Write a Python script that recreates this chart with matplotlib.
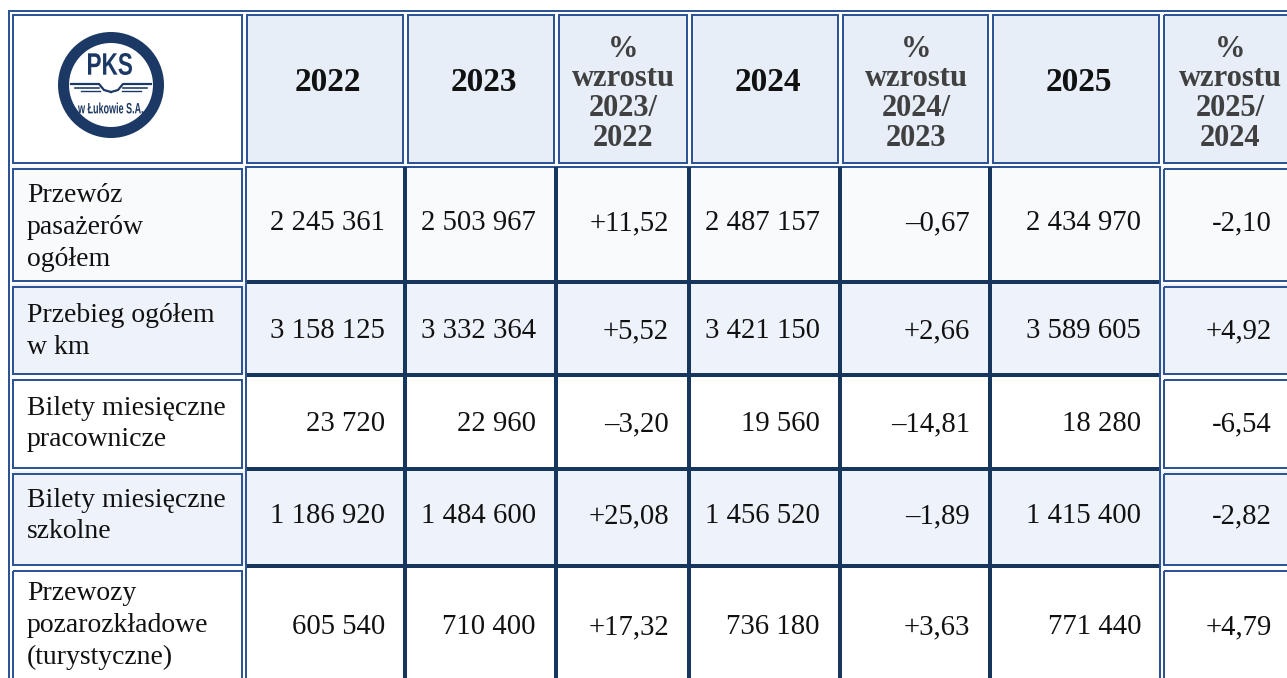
import matplotlib
matplotlib.use("Agg")
import matplotlib.pyplot as plt
from matplotlib.patches import Rectangle, Circle, PathPatch
from matplotlib.textpath import TextPath
from matplotlib.font_manager import FontProperties
from matplotlib.transforms import Affine2D

years = ["2022", "2023", "2024", "2025"]
growth_heads = [["%", "wzrostu", "2023/", "2022"],
                ["%", "wzrostu", "2024/", "2023"],
                ["%", "wzrostu", "2025/", "2024"]]
row_labels = [["Przewóz", "pasażerów", "ogółem"],
              ["Przebieg ogółem", "w km"],
              ["Bilety miesięczne", "pracownicze"],
              ["Bilety miesięczne", "szkolne"],
              ["Przewozy", "pozarozkładowe", "(turystyczne)"]]
values_2022 = [2245361, 3158125, 23720, 1186920, 605540]
values_2023 = [2503967, 3332364, 22960, 1484600, 710400]
values_2024 = [2487157, 3421150, 19560, 1456520, 736180]
values_2025 = [2434970, 3589605, 18280, 1415400, 771440]
growth_23_22 = [11.52, 5.52, -3.20, 25.08, 17.32]
growth_24_23 = [-0.67, 2.66, -14.81, -1.89, 3.63]
growth_25_24 = [-2.10, 4.92, -6.54, -2.82, 4.79]

BLUE = "#2f5496"
NAVY = "#17365d"
LOGO = "#1c3864"
HEAD_BG = "#e7eef8"
ROW_BG = ["#f9fafc", "#eef3fb", "#ffffff", "#eef3fb", "#ffffff"]
SERIF = "Liberation Serif"

W, H = 1287, 678
col_edges = [10, 244, 405, 556, 689, 840, 990, 1161, 1297]
row_edges = [10, 164, 282, 375, 469, 566, 700]
num_base = [230, 338, 431, 523, 634]
label_base = [202.5, 322, 415, 507, 600]
label_step = [31.5, 31.5, 31.5, 31.5, 32]
PT = 0.72  # points per pixel at dpi 100


def fmt_int(v):
    return f"{v:,}".replace(",", " ")


def fmt_pct(v, minus):
    s = f"{abs(v):.2f}".replace(".", ",")
    return ("+" if v > 0 else minus) + s


def fit_text(ax, s, box, color, weight="bold"):
    # draw text path squeezed into a pixel box (x0, x1, y_top, y_base)
    tp = TextPath((0, 0), s, size=1,
                  prop=FontProperties(family="Liberation Sans", weight=weight))
    ext = tp.get_extents()
    x0, x1, yt, yb = box
    sx = (x1 - x0) / ext.width
    sy = (yb - yt) / ext.height
    tr = Affine2D().translate(-ext.x0, -ext.y0).scale(sx, -sy).translate(x0, yb)
    ax.add_patch(PathPatch(tr.transform_path(tp), fc=color, ec="none"))


fig = plt.figure(figsize=(W / 100, H / 100), dpi=100)
ax = fig.add_axes([0, 0, 1, 1])
ax.set_xlim(0, W)
ax.set_ylim(H, 0)
ax.axis("off")

# backgrounds
for c in range(8):
    x0, x1 = col_edges[c], col_edges[c + 1]
    ax.add_patch(Rectangle((x0 + 3, row_edges[0] + 4), x1 - x0 - 5,
                           row_edges[1] - row_edges[0] - 5,
                           fc="white" if c == 0 else HEAD_BG, ec="none"))
for r in range(5):
    y0, y1 = row_edges[r + 1], row_edges[r + 2]
    ax.add_patch(Rectangle((col_edges[0] + 3, y0 + 2), W, y1 - y0 - 3,
                           fc=ROW_BG[r], ec="none"))

# outer border
ax.plot([8.5, 8.5, W + 5], [H + 5, 10.5, 10.5], color=BLUE, lw=2 * PT,
        solid_joinstyle="miter")

# blue cell borders: header row, label column, last column
def blue_cell(x0, x1, y0, y1):
    ax.add_patch(Rectangle((x0 + 3, y0 + 4.5), x1 - x0 - 5, y1 - y0 - 6,
                           fc="none", ec=BLUE, lw=2 * PT))

for c in range(8):
    blue_cell(col_edges[c], col_edges[c + 1], row_edges[0], row_edges[1])
for r in range(5):
    blue_cell(col_edges[0], col_edges[1], row_edges[r + 1], row_edges[r + 2])
    blue_cell(col_edges[7], col_edges[8], row_edges[r + 1], row_edges[r + 2])

# body block: blue outline, navy interior grid
bx0, bx1 = col_edges[1] + 2, col_edges[7] - 1.5
ax.plot([bx0, bx0], [row_edges[1] + 3, H + 5], color=BLUE, lw=2 * PT)
ax.plot([bx1, bx1], [row_edges[1] + 3, H + 5], color=BLUE, lw=2 * PT)
ax.plot([bx0, bx1], [row_edges[1] + 3, row_edges[1] + 3], color=BLUE, lw=2 * PT)
for x in col_edges[2:7]:
    ax.plot([x, x], [row_edges[1] + 3, H + 5], color=NAVY, lw=4 * PT,
            solid_capstyle="butt")
for y in row_edges[2:6]:
    ax.plot([bx0 + 1, bx1 - 1], [y, y], color=NAVY, lw=4 * PT,
            solid_capstyle="butt")

# header texts
year_cols = [1, 2, 4, 6]
for yr, c in zip(years, year_cols):
    xc = (col_edges[c] + col_edges[c + 1]) / 2 + 3
    ax.text(xc, 91, yr, ha="center", va="baseline", fontsize=24,
            fontweight="bold", family=SERIF, color="#111111")
for head, c in zip(growth_heads, [3, 5, 7]):
    xc = (col_edges[c] + col_edges[c + 1]) / 2 + 1
    for i, line in enumerate(head):
        ax.text(xc, 57 + 29.5 * i, line, ha="center", va="baseline",
                fontsize=22, fontweight="bold", family=SERIF, color="#404040")

# row labels
for r, lines in enumerate(row_labels):
    for i, line in enumerate(lines):
        ax.text(27, label_base[r] + label_step[r] * i, line, ha="left",
                va="baseline", fontsize=20, family=SERIF, color="#111111")

# body values
columns = [
    [fmt_int(v) for v in values_2022],
    [fmt_int(v) for v in values_2023],
    [fmt_pct(v, "\u2013") for v in growth_23_22],
    [fmt_int(v) for v in values_2024],
    [fmt_pct(v, "\u2013") for v in growth_24_23],
    [fmt_int(v) for v in values_2025],
    [fmt_pct(v, "-") for v in growth_25_24],
]
for k, col in enumerate(columns):
    c = k + 1
    xr = col_edges[c + 1] - 20 if c < 7 else 1272
    for r, s in enumerate(col):
        ax.text(xr, num_base[r], s, ha="right", va="baseline", fontsize=20.7,
                family=SERIF, color="#111111")

# logo
ax.add_patch(Circle((111, 85), 47.5, fc="white", ec=LOGO, lw=11 * PT))
fit_text(ax, "PKS", (88, 132, 53, 75), LOGO)
fit_text(ax, "w Łukowie S.A.", (78, 143, 102.5, 113.5), LOGO)
for sgn in (-1, 1):
    xs = [111 + sgn * 40, 111 + sgn * 12, 111 + sgn * 7, 111]
    ax.plot(xs, [84, 84, 90, 92], color=LOGO, lw=2.2 * PT)
    ax.plot([111 + sgn * 36, 111 + sgn * 12], [87.5, 87.5], color=LOGO, lw=1.6 * PT)
    ax.plot([111 + sgn * 30, 111 + sgn * 11], [91, 91], color=LOGO, lw=1.4 * PT)

fig.savefig("out.png", dpi=100)
